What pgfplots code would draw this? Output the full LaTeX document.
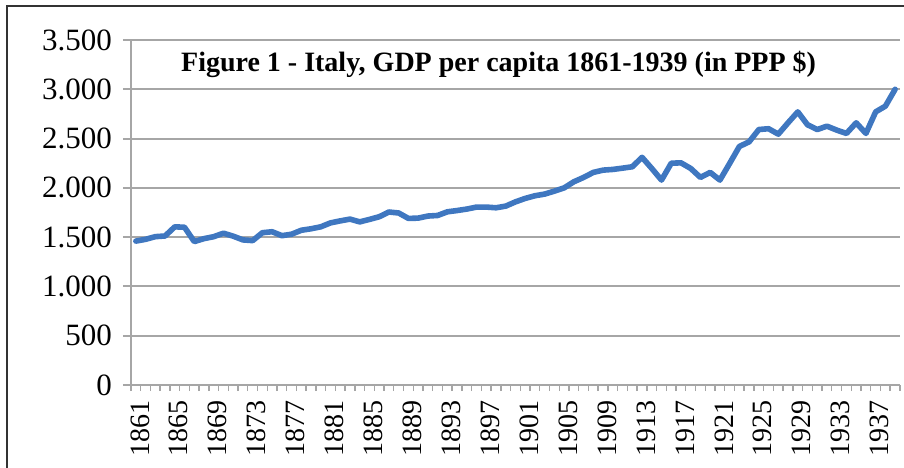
\documentclass[border=0pt]{standalone}
\usepackage{pgfplots}
\pgfplotsset{compat=1.18}
\usepackage{fontspec}
\setmainfont{Liberation Serif}
\definecolor{gdpblue}{HTML}{3F77C0}
\definecolor{gridgray}{HTML}{A6A6A6}
\definecolor{framegray}{HTML}{333333}

\pgfplotstableread{
year gdp
1861 1460
1862 1478
1863 1505
1864 1512
1865 1605
1866 1600
1867 1455
1868 1485
1869 1505
1870 1540
1871 1510
1872 1472
1873 1465
1874 1545
1875 1555
1876 1515
1877 1530
1878 1570
1879 1585
1880 1605
1881 1645
1882 1665
1883 1683
1884 1655
1885 1680
1886 1707
1887 1755
1888 1745
1889 1690
1890 1693
1891 1714
1892 1720
1893 1757
1894 1770
1895 1785
1896 1805
1897 1805
1898 1798
1899 1815
1900 1858
1901 1893
1902 1920
1903 1937
1904 1967
1905 2000
1906 2062
1907 2106
1908 2157
1909 2180
1910 2187
1911 2200
1912 2214
1913 2310
1914 2197
1915 2079
1916 2250
1917 2254
1918 2197
1919 2106
1920 2157
1921 2079
1922 2248
1923 2420
1924 2467
1925 2592
1926 2600
1927 2545
1928 2660
1929 2771
1930 2640
1931 2592
1932 2626
1933 2586
1934 2552
1935 2660
1936 2552
1937 2771
1938 2829
1939 3000
}\gdptable

\begin{document}
\begin{tikzpicture}
% page = 904 x 467 px, 1 px = 0.5pt; axis box 131..900 x 40..385
\useasboundingbox (-65.5pt,-41pt) rectangle (386.5pt,192.5pt);
\draw[framegray, line width=0.8pt] (-62pt,-42pt) -- (-62pt,189.5pt) -- (387pt,189.5pt);
\begin{axis}[
  at={(0,0)}, anchor=south west,
  scale only axis, width=384.5pt, height=172.5pt,
  xmin=1860.5, xmax=1939.5, ymin=0, ymax=3500,
  axis lines=left, axis line style={-, gridgray, line width=1pt},
  ytick={0,500,...,3500},
  xtick={1861,1865,...,1937},
  minor xtick={1860.5,1861.5,...,1939.5},
  major x tick style={draw=none},
  minor x tick style={gridgray, line width=0.7pt},
  major y tick style={gridgray, line width=1pt},
  tick align=outside,
  major tick length=4pt, minor tick length=3pt,
  ymajorgrids, grid style={gridgray, line width=1pt},
  /pgf/number format/.cd, 1000 sep={.}, assume math mode=true, /pgfplots/.cd,
  yticklabel style={font=\fontsize{15.5}{15.5}\selectfont, xshift=-2pt},
  xticklabel style={font=\fontsize{14}{14}\selectfont, rotate=90, anchor=east, yshift=-2pt},
  xticklabel={\pgfmathprintnumber[precision=0, 1000 sep={}]{\tick}},
  clip=false,
]
\addplot[gdpblue, line width=2.8pt, line join=round, line cap=round] table[x=year, y=gdp] {\gdptable};
\node[font=\bfseries\fontsize{14}{16}\selectfont, anchor=center] at (rel axis cs:0.478,0.93) {Figure 1 - Italy, GDP per capita 1861-1939 (in PPP \$)};
\end{axis}
\end{tikzpicture}
\end{document}
